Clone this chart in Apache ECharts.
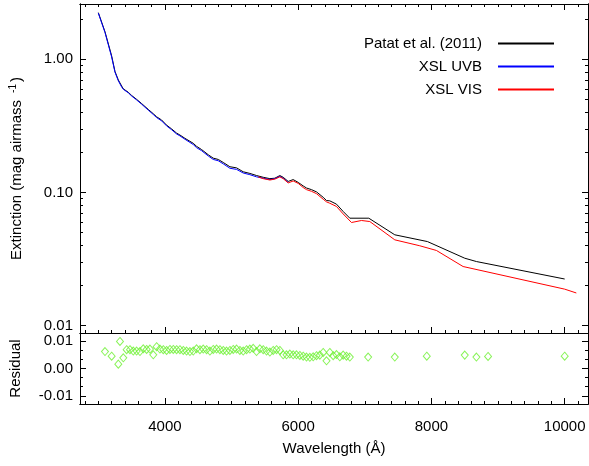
<!DOCTYPE html>
<html>
<head>
<meta charset="utf-8">
<script src="https://cdn.jsdelivr.net/npm/echarts@6/dist/echarts.min.js"></script>
<style>
html, body { margin: 0; padding: 0; background: #fff; }
#chart { width: 589px; height: 466px; }
</style>
</head>
<body>
<div id="chart"></div>
<script>
// Patat et al. (2011) extinction curve
var patatWave = [3000, 3100, 3200, 3250, 3300, 3350, 3375, 3450, 3500, 3575, 3650, 3750, 3825, 3875, 3950,
  4025, 4100, 4175, 4225, 4300, 4425, 4475, 4550, 4650, 4725, 4800, 4875, 4975, 5075, 5175, 5275, 5375,
  5475, 5575, 5650, 5725, 5775, 5850, 5925, 6000, 6075, 6125, 6200, 6275, 6375, 6425, 6475, 6575, 6675,
  6775, 7060, 7450, 7940, 8500, 8675, 10000];
var patatExt = [2.24, 1.61, 1.06, 0.81, 0.70, 0.63, 0.60, 0.565, 0.535, 0.50, 0.465, 0.42, 0.39, 0.37, 0.35,
  0.32, 0.30, 0.279, 0.27, 0.255, 0.234, 0.222, 0.21, 0.192, 0.181, 0.177, 0.168, 0.156, 0.153, 0.143, 0.139, 0.134,
  0.130, 0.127, 0.128, 0.134, 0.130, 0.121, 0.125, 0.119, 0.112, 0.108, 0.105, 0.101, 0.092, 0.087, 0.0865, 0.0817, 0.072,
  0.0641, 0.0641, 0.0481, 0.0428, 0.0321, 0.0303, 0.0224];

// XSL UVB arm
var uvbWave = [3000, 3100, 3200, 3250, 3300, 3350, 3375, 3450, 3500, 3575, 3650, 3750, 3825, 3875, 3950,
  4025, 4100, 4175, 4225, 4300, 4425, 4475, 4550, 4650, 4725, 4800, 4875, 4975, 5075, 5175, 5275, 5375,
  5475, 5575, 5650, 5725, 5775, 5850];
var uvbExt = [2.22, 1.59, 1.04, 0.80, 0.69, 0.62, 0.595, 0.56, 0.53, 0.495, 0.46, 0.415, 0.385, 0.365, 0.345,
  0.316, 0.296, 0.275, 0.266, 0.251, 0.229, 0.217, 0.206, 0.188, 0.177, 0.173, 0.164, 0.152, 0.149, 0.140, 0.136, 0.131,
  0.128, 0.125, 0.127, 0.132, 0.128, 0.119];

// XSL VIS arm
var visWave = [5400, 5475, 5575, 5650, 5725, 5775, 5850, 5925, 6000, 6075, 6125, 6200, 6275, 6375, 6425, 6475,
  6575, 6675, 6800, 6950, 7075, 7450, 7825, 8075, 8475, 10000, 10175];
var visExt = [0.131, 0.127, 0.124, 0.126, 0.131, 0.127, 0.118, 0.122, 0.117, 0.109, 0.105, 0.102, 0.098, 0.089, 0.085, 0.083,
  0.0785, 0.069, 0.0595, 0.0616, 0.0605, 0.0441, 0.0398, 0.0367, 0.0278, 0.0188, 0.0176];

// residuals
var residWave = [3100, 3200, 3300, 3325, 3375,
  3425, 3475, 3525, 3575, 3625, 3675, 3725, 3775, 3825, 3875, 3925, 3975, 4025, 4075, 4125, 4175, 4225, 4275,
  4325, 4375, 4425, 4475, 4525, 4575, 4625, 4675, 4725, 4775, 4825, 4875, 4925, 4975, 5025, 5075, 5125, 5175,
  5225, 5275, 5325, 5375, 5425, 5475, 5525, 5575, 5625, 5675, 5725, 5775, 5825, 5875, 5925, 5975, 6025, 6075,
  6125, 6175, 6225, 6275, 6325, 6375, 6425, 6475, 6525, 6575, 6625, 6675, 6725, 6775,
  7050, 7450, 7930, 8500, 8675, 8850, 10000];
var residVal = [0.0062, 0.0045, 0.0016, 0.0099, 0.0039,
  0.0069, 0.0069, 0.0064, 0.0064, 0.0062, 0.0072, 0.0070, 0.0071, 0.0050, 0.0080, 0.0071, 0.0069, 0.0066, 0.0070,
  0.0070, 0.0069, 0.0069, 0.0066, 0.0064, 0.0062, 0.0064, 0.0072, 0.0069, 0.0071, 0.0069, 0.0064, 0.0070, 0.0071,
  0.0069, 0.0066, 0.0064, 0.0066, 0.0070, 0.0071, 0.0066, 0.0064, 0.0069, 0.0071, 0.0074, 0.0062, 0.0072, 0.0069,
  0.0064, 0.0060, 0.0066, 0.0069, 0.0066, 0.0050, 0.0050, 0.0053, 0.0050, 0.0050, 0.0048, 0.0045, 0.0042, 0.0041,
  0.0043, 0.0047, 0.0049, 0.0059, 0.0028, 0.0059, 0.0047, 0.0051, 0.0043, 0.0049, 0.0045, 0.0042,
  0.0042, 0.0042, 0.0045, 0.0049, 0.0042, 0.0044, 0.0045];

// ticks
var xMajor = [4000, 6000, 8000, 10000];
var xMinor = [];
for (var w = 2800; w <= 10200; w += 200) xMinor.push(w);
var logMinor = [0.02, 0.03, 0.04, 0.05, 0.06, 0.07, 0.08, 0.09, 0.2, 0.3, 0.4, 0.5, 0.6, 0.7, 0.8, 0.9, 2];
var residMajor = [-0.01, 0, 0.01];
var residMinor = [-0.01, -0.02 / 3, -0.01 / 3, 0.01 / 3, 0.02 / 3, 0.01];

var FONT = 'Liberation Sans';
var BLACK = '#000', BLUE = '#0000ff', RED = '#ff0000';

function pairs(xs, ys) {
  return xs.map(function (x, i) { return [x, ys[i]]; });
}

function xAx(grid, pos, ticks, len) {
  return {
    type: 'value', gridIndex: grid, position: pos, min: 2725, max: 10350,
    axisLine: { show: true, onZero: false, lineStyle: { color: '#000', width: 1 } },
    axisTick: { show: true, inside: true, length: len, customValues: ticks, lineStyle: { color: '#000', width: 1 } },
    axisLabel: { show: false },
    splitLine: { show: false }
  };
}

function yLog(pos, ticks, len) {
  var a = {
    type: 'log', logBase: 10, gridIndex: 0, position: pos, min: 0.00881, max: 2.6,
    axisLine: { show: true, onZero: false, lineStyle: { color: '#000', width: 1 } },
    axisTick: { show: true, inside: true, length: len, lineStyle: { color: '#000', width: 1 } },
    axisLabel: { show: false },
    splitLine: { show: false }
  };
  if (ticks) a.axisTick.customValues = ticks;
  return a;
}

function yRes(pos, ticks, len) {
  return {
    type: 'value', gridIndex: 1, position: pos, min: -0.013, max: 0.013,
    axisLine: { show: true, onZero: false, lineStyle: { color: '#000', width: 1 } },
    axisTick: { show: true, inside: true, length: len, customValues: ticks, lineStyle: { color: '#000', width: 1 } },
    axisLabel: { show: false },
    splitLine: { show: false }
  };
}

var xAxes = [
  xAx(0, 'bottom', xMajor, 6),
  xAx(0, 'top', xMajor, 6),
  xAx(0, 'bottom', xMinor, 3),
  xAx(0, 'top', xMinor, 3),
  xAx(1, 'bottom', xMajor, 6),
  xAx(1, 'bottom', xMinor, 3)
];
xAxes[4].axisLabel = {
  show: true, customValues: xMajor, margin: 15, color: '#000', fontFamily: FONT, fontSize: 15,
  formatter: function (v) { return String(v); }
};
xAxes[4].name = 'Wavelength (\u00c5)';
xAxes[4].nameLocation = 'middle';
xAxes[4].nameGap = 37;
xAxes[4].nameTextStyle = { color: '#000', fontFamily: FONT, fontSize: 15 };

var yAxes = [
  yLog('left', null, 6),
  yLog('right', null, 6),
  yLog('left', logMinor, 3),
  yLog('right', logMinor, 3),
  yRes('left', residMajor, 6),
  yRes('right', residMajor, 6),
  yRes('left', residMinor, 3),
  yRes('right', residMinor, 3)
];
yAxes[0].axisLabel = {
  show: true, showMinLabel: false, showMaxLabel: false, margin: 7, color: '#000', fontFamily: FONT, fontSize: 15,
  formatter: function (v) { return Number(v).toFixed(2); }
};
yAxes[0].name = 'Extinction (mag airmass {sup| -1})';
yAxes[0].nameLocation = 'middle';
yAxes[0].nameGap = 54;
yAxes[0].nameTextStyle = {
  color: '#000', fontFamily: FONT, fontSize: 15,
  rich: { sup: { color: '#000', fontFamily: FONT, fontSize: 10, verticalAlign: 'top', padding: [0, 2, 8, 0] } }
};
yAxes[4].axisLabel = {
  show: true, customValues: residMajor, margin: 7, color: '#000', fontFamily: FONT, fontSize: 15,
  formatter: function (v) { return Number(v).toFixed(2); }
};
yAxes[4].name = 'Residual';
yAxes[4].nameLocation = 'middle';
yAxes[4].nameGap = 57;
yAxes[4].nameTextStyle = { color: '#000', fontFamily: FONT, fontSize: 15 };

var chart = echarts.init(document.getElementById('chart'), null, { renderer: 'canvas' });
chart.setOption({
  animation: false,
  backgroundColor: '#fff',
  grid: [
    { left: 80, right: 1, top: 4, height: 329, outerBoundsMode: 'none', containLabel: false },
    { left: 80, right: 1, top: 333, height: 71, outerBoundsMode: 'none', containLabel: false }
  ],
  legend: {
    orient: 'vertical', right: 34, top: 36, padding: 0, align: 'right',
    itemWidth: 56, itemHeight: 14, itemGap: 8, selectedMode: false,
    itemStyle: { color: 'rgba(0,0,0,0)', borderWidth: 0, opacity: 0 },
    textStyle: { color: '#000', fontFamily: FONT, fontSize: 15, padding: [0, 11, 0, 0] },
    data: ['Patat et al. (2011)', 'XSL UVB', 'XSL VIS']
  },
  xAxis: xAxes,
  yAxis: yAxes,
  series: [
    {
      name: 'Patat et al. (2011)', type: 'line', xAxisIndex: 0, yAxisIndex: 0,
      data: pairs(patatWave, patatExt), symbol: 'none',
      lineStyle: { color: BLACK, width: 1 }, itemStyle: { color: BLACK }
    },
    {
      name: 'XSL UVB', type: 'line', xAxisIndex: 0, yAxisIndex: 0,
      data: pairs(uvbWave, uvbExt), symbol: 'none',
      lineStyle: { color: BLUE, width: 1 }, itemStyle: { color: BLUE }
    },
    {
      name: 'XSL VIS', type: 'line', xAxisIndex: 0, yAxisIndex: 0,
      data: pairs(visWave, visExt), symbol: 'none',
      lineStyle: { color: RED, width: 1 }, itemStyle: { color: RED }
    },
    {
      name: 'Residual', type: 'scatter', xAxisIndex: 4, yAxisIndex: 4,
      data: pairs(residWave, residVal), symbol: 'diamond', symbolSize: [7, 8],
      itemStyle: { color: 'rgba(0,0,0,0)', borderColor: '#6cf030', borderWidth: 1 }
    }
  ]
});
</script>
</body>
</html>
